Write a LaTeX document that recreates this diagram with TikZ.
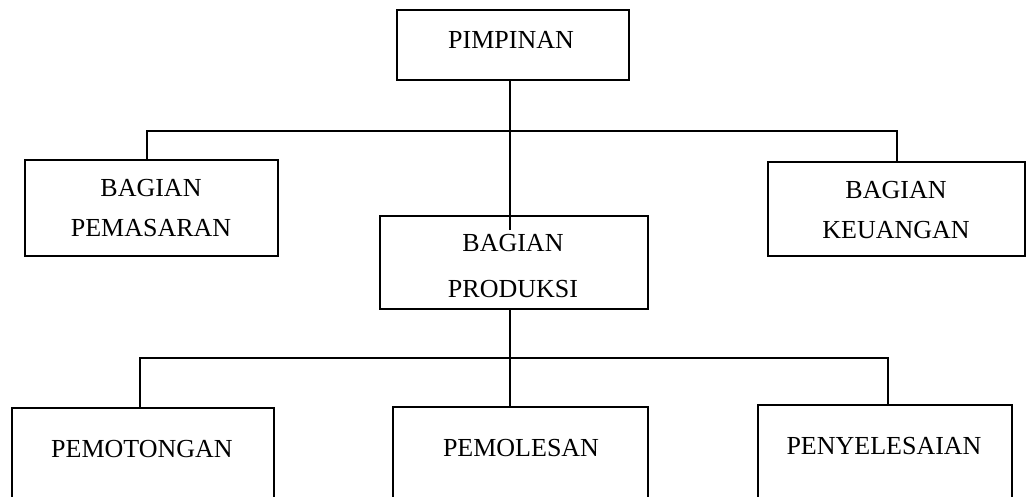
\documentclass[tikz,border=0pt]{standalone}
\usepackage{fontspec}
\setmainfont{Liberation Serif}
\begin{document}
\begin{tikzpicture}[x=1pt,y=-1pt,
  box/.style={draw, line width=2.2pt, rectangle, inner sep=0pt},
  lbl/.style={inner sep=0pt, align=center, font=\fontsize{26}{40}\selectfont},
  conn/.style={line width=1.2pt}]
\useasboundingbox (0,0) rectangle (1027,497);
\clip (0,0) rectangle (1027,497);
\fill[white] (0,0) rectangle (1027,497);
% boxes
\node[box, minimum width=232pt, minimum height=70pt] (pimp) at (513,45) {};
\node[box, minimum width=253pt, minimum height=96pt] (pemas) at (151.5,208) {};
\node[box, minimum width=257pt, minimum height=94pt] (keu) at (896.5,209) {};
\node[box, minimum width=268pt, minimum height=93pt] (prod) at (514,262.5) {};
\node[box, minimum width=262pt, minimum height=122pt] (pemot) at (143,469) {};
\node[box, minimum width=255pt, minimum height=123pt] (pemol) at (520.5,468.5) {};
\node[box, minimum width=254pt, minimum height=125pt] (peny) at (885,467.5) {};
% labels
\node[lbl] (pimp-t) at (511,40) {PIMPINAN};
\node[lbl] (pemas-t) at (151,208) {BAGIAN\\PEMASARAN};
\node[lbl] (keu-t) at (896,210) {BAGIAN\\KEUANGAN};
\node[lbl] (prod-t) at (513,266) {BAGIAN\\[6pt]PRODUKSI};
\node[lbl] (pemot-t) at (142,449) {PEMOTONGAN};
\node[lbl] (pemol-t) at (521,448) {PEMOLESAN};
\node[lbl] (peny-t) at (884,446) {PENYELESAIAN};
% connector points
\coordinate (j1) at (510,230);
\coordinate (h1l) at (147,131);
\coordinate (h1r) at (897,131);
\coordinate (h2l) at (140,358);
\coordinate (h2r) at (888,358);
% connectors
\draw[conn] (j1 |- pimp.south) -- (j1);
\draw[conn] (h1l |- pemas.north) -- (h1l) -- (h1r) -- (h1r |- keu.north);
\draw[conn] (j1 |- prod.south) -- (j1 |- pemol.north);
\draw[conn] (h2l |- pemot.north) -- (h2l) -- (h2r) -- (h2r |- peny.north);
\end{tikzpicture}
\end{document}
